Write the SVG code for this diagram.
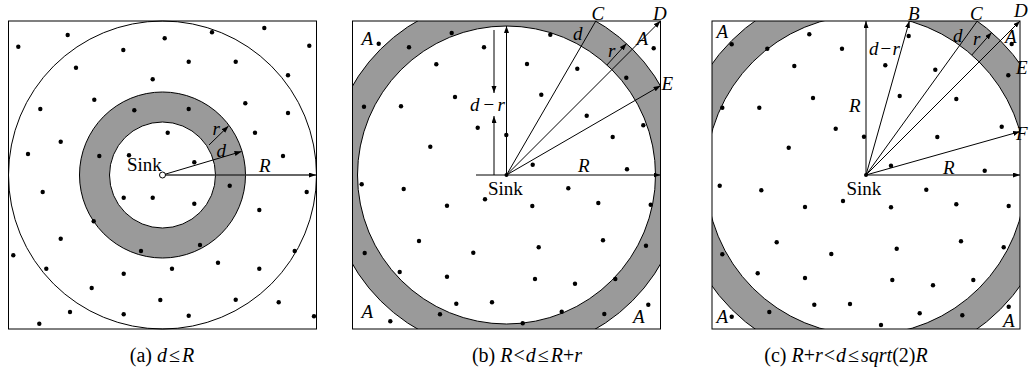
<svg xmlns="http://www.w3.org/2000/svg" width="1029" height="378" viewBox="0 0 1029 378">
<style>
.sq{fill:none;stroke:#000;stroke-width:1}
.ring{fill:#9a9a9a;stroke:#000;stroke-width:1}
.wc{fill:#fff;stroke:#000;stroke-width:1}
.ln{stroke:#000;stroke-width:1;fill:none}
.dot{fill:#000}
text{font-family:"Liberation Serif","Times New Roman",serif;font-size:19px;fill:#000}
.it{font-style:italic}
.cap{font-size:20px;text-anchor:middle}
</style>
<defs>
<marker id="ar" markerUnits="userSpaceOnUse" markerWidth="8" markerHeight="6" refX="7" refY="2.5" orient="auto-start-reverse"><path d="M0,0 L7,2.5 L0,5 z" fill="#000"/></marker>
<clipPath id="cb"><rect x="352.5" y="21" width="308" height="308"/></clipPath>
<clipPath id="cc"><rect x="712" y="21" width="308" height="308"/></clipPath>
<circle id="d" r="2.2" class="dot"/>
</defs>
<rect width="1029" height="378" fill="#fff"/>

<!-- Panel (a) -->
<g id="panel-a">
<g id="a-field">
<circle cx="162.5" cy="175" r="154" class="wc"/>
<circle cx="162.5" cy="175" r="83" class="ring"/>
<circle cx="162.5" cy="175" r="53" class="wc"/>
<rect x="8.5" y="21" width="308" height="308" class="sq"/>
</g>
<g id="a-dots">
<use href="#d" x="18.3" y="46.7"/><use href="#d" x="67.7" y="35"/><use href="#d" x="164.7" y="38.3"/><use href="#d" x="212" y="32.3"/><use href="#d" x="264.3" y="28"/><use href="#d" x="309.3" y="45.7"/><use href="#d" x="123.3" y="50"/><use href="#d" x="188.7" y="61.7"/><use href="#d" x="235.7" y="61.7"/><use href="#d" x="76" y="67.7"/><use href="#d" x="152.7" y="79.3"/><use href="#d" x="288" y="75.3"/><use href="#d" x="94.3" y="99.7"/><use href="#d" x="40.3" y="109"/><use href="#d" x="134.3" y="110.3"/><use href="#d" x="188.7" y="109"/><use href="#d" x="245.3" y="103.3"/><use href="#d" x="288" y="113"/><use href="#d" x="167.7" y="132.7"/><use href="#d" x="255" y="132.7"/><use href="#d" x="60.7" y="141.7"/><use href="#d" x="28" y="154"/><use href="#d" x="99.3" y="156"/><use href="#d" x="129" y="155.3"/><use href="#d" x="194.3" y="162.3"/><use href="#d" x="283" y="156"/><use href="#d" x="42.7" y="192"/><use href="#d" x="229.7" y="185.7"/><use href="#d" x="306.7" y="192"/><use href="#d" x="123.7" y="197.7"/><use href="#d" x="152.7" y="197.7"/><use href="#d" x="194.3" y="203.7"/><use href="#d" x="259.3" y="210"/><use href="#d" x="93.7" y="221.3"/><use href="#d" x="60.7" y="238.7"/><use href="#d" x="200" y="245"/><use href="#d" x="141" y="251"/><use href="#d" x="294.7" y="251"/><use href="#d" x="13.3" y="255.3"/><use href="#d" x="46.3" y="268.7"/><use href="#d" x="172" y="268.7"/><use href="#d" x="218" y="262.7"/><use href="#d" x="259.3" y="268.7"/><use href="#d" x="123.7" y="273.7"/><use href="#d" x="91.7" y="288"/><use href="#d" x="160.3" y="300"/><use href="#d" x="235.7" y="299.7"/><use href="#d" x="278.7" y="302.3"/><use href="#d" x="70" y="312"/><use href="#d" x="123.7" y="314.3"/><use href="#d" x="188.7" y="315.7"/><use href="#d" x="314" y="316.3"/><use href="#d" x="39.3" y="323.7"/>
</g>
<g id="a-connectors">
<line x1="162.5" y1="175" x2="316" y2="175" class="ln" style="stroke:#333;stroke-width:1.5" marker-end="url(#ar)"/>
<line x1="162.5" y1="175" x2="241.5" y2="151.5" class="ln" marker-end="url(#ar)"/>
<line x1="209" y1="145" x2="228.5" y2="126" class="ln" marker-end="url(#ar)"/>
</g>
<g id="a-sink"><circle cx="162.5" cy="175" r="3" fill="#fff" stroke="#000" stroke-width="1"/><text x="127" y="171">Sink</text></g>
<text class="it" x="212.5" y="135">r</text>
<text class="it" x="216.5" y="157">d</text>
<text class="it" x="259" y="172">R</text>
<text class="cap" x="162" y="362">(a) <tspan class="it">d</tspan><tspan dx="2">≤</tspan><tspan class="it" dx="2">R</tspan></text>
</g>

<!-- Panel (b) -->
<g id="panel-b">
<g id="b-field" clip-path="url(#cb)">
<circle cx="506.5" cy="175" r="178" class="ring"/>
<circle cx="506.5" cy="175" r="149" class="wc"/>
</g>
<rect x="352.5" y="21" width="308" height="308" class="sq"/>
<g id="b-dots">
<use href="#d" x="378.7" y="43.7"/><use href="#d" x="409" y="47.3"/><use href="#d" x="451.7" y="33"/><use href="#d" x="484" y="47.3"/><use href="#d" x="550.3" y="34.7"/><use href="#d" x="653.7" y="48.3"/><use href="#d" x="436.3" y="64.3"/><use href="#d" x="527" y="64"/><use href="#d" x="577.3" y="68.7"/><use href="#d" x="626.3" y="77.7"/><use href="#d" x="364" y="106.7"/><use href="#d" x="401" y="106.3"/><use href="#d" x="455" y="97"/><use href="#d" x="541.3" y="94.7"/><use href="#d" x="586.7" y="115.7"/><use href="#d" x="643.3" y="125.3"/><use href="#d" x="477.7" y="127.7"/><use href="#d" x="506.3" y="135"/><use href="#d" x="430.3" y="146.7"/><use href="#d" x="612.7" y="137"/><use href="#d" x="532.7" y="164.7"/><use href="#d" x="627" y="169.3"/><use href="#d" x="361.7" y="184.3"/><use href="#d" x="403.7" y="189"/><use href="#d" x="568.3" y="188.3"/><use href="#d" x="485" y="199.3"/><use href="#d" x="447" y="205.7"/><use href="#d" x="532.3" y="206"/><use href="#d" x="598.3" y="203"/><use href="#d" x="650.7" y="204.7"/><use href="#d" x="419" y="241"/><use href="#d" x="473.3" y="252.7"/><use href="#d" x="538.7" y="247.3"/><use href="#d" x="603" y="240.3"/><use href="#d" x="364.7" y="253"/><use href="#d" x="646" y="245.7"/><use href="#d" x="399.7" y="272"/><use href="#d" x="447" y="276.7"/><use href="#d" x="535" y="279"/><use href="#d" x="575" y="283.7"/><use href="#d" x="615.3" y="279"/><use href="#d" x="456.3" y="303.7"/><use href="#d" x="492" y="302.3"/><use href="#d" x="561.7" y="311.7"/><use href="#d" x="648.3" y="304.7"/><use href="#d" x="390.3" y="321.3"/><use href="#d" x="440" y="314.3"/><use href="#d" x="522.7" y="323.3"/><use href="#d" x="604.3" y="314"/>
</g>
<g id="b-connectors">
<line x1="506.5" y1="175" x2="660.5" y2="175" class="ln" marker-end="url(#ar)"/>
<line x1="506.5" y1="175" x2="506.5" y2="26" class="ln" marker-end="url(#ar)"/>
<line x1="506.5" y1="175" x2="595.8" y2="21" class="ln"/>
<line x1="506.5" y1="175" x2="660.5" y2="21" class="ln" marker-end="url(#ar)"/>
<line x1="506.5" y1="175" x2="660.5" y2="85.7" class="ln" marker-end="url(#ar)"/>
<line x1="606.9" y1="65" x2="626.5" y2="43.6" class="ln" marker-end="url(#ar)"/>
<line x1="494" y1="30" x2="494" y2="93" class="ln" marker-end="url(#ar)"/>
<line x1="494" y1="175" x2="494" y2="116" class="ln" marker-end="url(#ar)"/>
<line x1="476" y1="175" x2="506.5" y2="175" class="ln"/>
</g>
<g id="b-sink"><circle cx="506.5" cy="175" r="2" class="dot"/><text x="488" y="195">Sink</text></g>
<text class="it" x="470" y="111" textLength="35" lengthAdjust="spacing">d−r</text>
<text class="it" x="591.5" y="20">C</text>
<text class="it" x="653" y="20">D</text>
<text class="it" x="573" y="40">d</text>
<text class="it" x="608" y="57">r</text>
<text class="it" x="636.5" y="45">A</text>
<text class="it" x="661.5" y="90">E</text>
<text class="it" x="578" y="172">R</text>
<text class="it" x="361.5" y="45">A</text>
<text class="it" x="361.5" y="318">A</text>
<text class="it" x="633" y="323">A</text>
<text class="cap" x="527" y="362">(b) <tspan class="it">R</tspan><tspan dx="1">&lt;</tspan><tspan class="it" dx="1">d</tspan><tspan dx="2">≤</tspan><tspan class="it" dx="2">R</tspan>+<tspan class="it">r</tspan></text>
</g>

<!-- Panel (c) -->
<g id="panel-c">
<g id="c-field" clip-path="url(#cc)">
<circle cx="866" cy="175" r="190" class="ring"/>
<circle cx="866" cy="175" r="160" class="wc"/>
</g>
<rect x="712" y="21" width="308" height="308" class="sq"/>
<g id="c-dots">
<use href="#d" x="731.7" y="44.3"/><use href="#d" x="767.3" y="48.7"/><use href="#d" x="809.3" y="34.3"/><use href="#d" x="842" y="48.7"/><use href="#d" x="908.7" y="36"/><use href="#d" x="1011.7" y="44"/><use href="#d" x="794.3" y="66"/><use href="#d" x="885.3" y="65.3"/><use href="#d" x="935.3" y="69.7"/><use href="#d" x="1008.3" y="75.3"/><use href="#d" x="722.3" y="107.7"/><use href="#d" x="759.3" y="107.7"/><use href="#d" x="813" y="98"/><use href="#d" x="899.7" y="96"/><use href="#d" x="956.3" y="99"/><use href="#d" x="1001.7" y="126.7"/><use href="#d" x="835.7" y="128.7"/><use href="#d" x="864" y="136.7"/><use href="#d" x="788.7" y="147.7"/><use href="#d" x="937.3" y="137"/><use href="#d" x="891" y="165.7"/><use href="#d" x="984.7" y="170.7"/><use href="#d" x="719.7" y="185.7"/><use href="#d" x="761.3" y="190.3"/><use href="#d" x="926.3" y="189.7"/><use href="#d" x="843" y="201"/><use href="#d" x="805" y="207"/><use href="#d" x="891" y="207.3"/><use href="#d" x="956.3" y="204.3"/><use href="#d" x="1008.7" y="206"/><use href="#d" x="776.7" y="242.3"/><use href="#d" x="831.3" y="254"/><use href="#d" x="896.7" y="248.7"/><use href="#d" x="961" y="241.3"/><use href="#d" x="722.3" y="254.3"/><use href="#d" x="1003.7" y="247.3"/><use href="#d" x="757.7" y="273.3"/><use href="#d" x="805" y="278"/><use href="#d" x="892.3" y="280"/><use href="#d" x="933" y="285.3"/><use href="#d" x="973.3" y="280"/><use href="#d" x="814.3" y="304.7"/><use href="#d" x="850" y="304"/><use href="#d" x="919.7" y="313.3"/><use href="#d" x="1008.7" y="306.7"/><use href="#d" x="731.7" y="316.7"/><use href="#d" x="769.3" y="312"/><use href="#d" x="881" y="325"/><use href="#d" x="962.3" y="315.3"/>
</g>
<g id="c-connectors">
<line x1="866" y1="175" x2="1020" y2="175" class="ln" marker-end="url(#ar)"/>
<line x1="866" y1="175" x2="866" y2="21" class="ln" marker-end="url(#ar)"/>
<line x1="866" y1="175" x2="909.4" y2="21" class="ln" marker-end="url(#ar)"/>
<line x1="866" y1="175" x2="977.3" y2="21" class="ln"/>
<line x1="866" y1="175" x2="1020" y2="21" class="ln" marker-end="url(#ar)"/>
<line x1="866" y1="175" x2="1020" y2="131.6" class="ln" marker-end="url(#ar)"/>
<line x1="971.8" y1="55" x2="991.6" y2="32.5" class="ln" marker-end="url(#ar)"/>
</g>
<g id="c-sink"><circle cx="866" cy="175" r="2" class="dot"/><text x="846.5" y="195">Sink</text></g>
<text class="it" x="869" y="55" textLength="31" lengthAdjust="spacing">d−r</text>
<text class="it" x="849" y="112">R</text>
<text class="it" x="943" y="174">R</text>
<text class="it" x="908" y="20">B</text>
<text class="it" x="970" y="20">C</text>
<text class="it" x="1014" y="17">D</text>
<text class="it" x="1016" y="74">E</text>
<text class="it" x="1016" y="140">F</text>
<text class="it" x="953" y="42">d</text>
<text class="it" x="973" y="45">r</text>
<text class="it" x="1005" y="43">A</text>
<text class="it" x="716.5" y="38">A</text>
<text class="it" x="716.5" y="323">A</text>
<text class="it" x="1003" y="327">A</text>
<text class="cap" x="846" y="362">(c) <tspan class="it">R</tspan>+<tspan class="it">r</tspan><tspan dx="1">&lt;</tspan><tspan class="it" dx="1">d</tspan><tspan dx="2">≤</tspan><tspan class="it" dx="2">sqrt</tspan>(2)<tspan class="it">R</tspan></text>
</g>
</svg>
